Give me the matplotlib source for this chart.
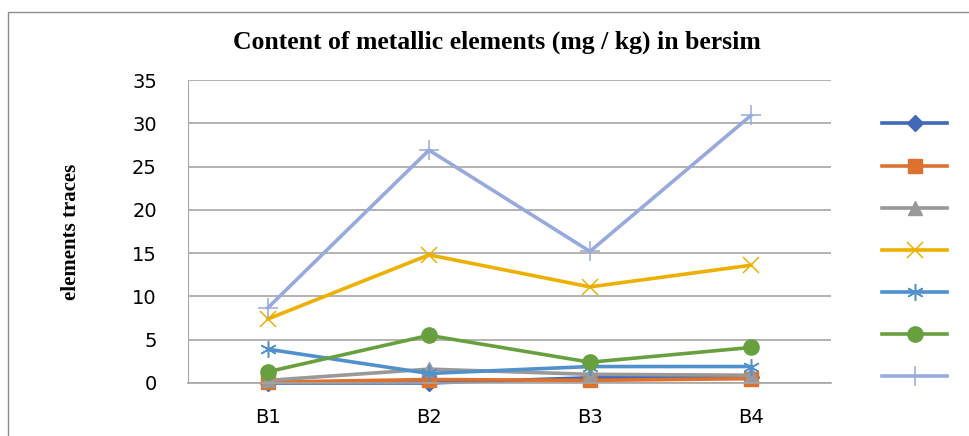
import numpy as np
import matplotlib.pyplot as plt
from matplotlib.patches import Rectangle

# data
samples = ['B1', 'B2', 'B3', 'B4']
s_diamond = [0.0, 0.0, 0.6, 0.7]
s_square = [0.1, 0.4, 0.3, 0.5]
s_triangle = [0.3, 1.6, 1.0, 0.9]
s_cross = [7.4, 14.8, 11.1, 13.6]
s_star = [3.9, 1.1, 1.9, 1.9]
s_circle = [1.3, 5.5, 2.4, 4.1]
s_plus = [8.7, 26.9, 15.2, 30.9]

series = [s_diamond, s_square, s_triangle, s_cross, s_star, s_circle, s_plus]
colors = ['#4169B8', '#DD7230', '#999999', '#EDB000', '#5090CC', '#68A040', '#97AADB']
markers = ['D', 's', '^', 'x', (6, 2, 0), 'o', '+']
msizes = [8, 10, 10, 12, 12, 11, 14]
mews = [1, 1, 1, 1.1, 1.1, 1, 1.1]

fig = plt.figure(figsize=(9.69, 4.36), dpi=100)
ax = fig.add_axes([0.1935, 0.1216, 0.6645, 0.6949])

x = np.arange(len(samples))
handles = []
for vals, c, m, ms, mw in zip(series, colors, markers, msizes, mews):
    ln, = ax.plot(x, vals, color=c, lw=2.6, marker=m, markersize=ms,
                  markeredgewidth=mw, markeredgecolor=c, markerfacecolor=c,
                  clip_on=False)
    handles.append(ln)

ax.set_xlim(-0.5, 3.5)
ax.set_ylim(0, 35)
ax.set_yticks(np.arange(0, 36, 5))
ax.set_xticks(x)
ax.set_xticklabels(samples)
ax.grid(axis='y', color='#A6A6A6', lw=1.2)
ax.set_axisbelow(True)
for sp in ['top', 'right']:
    ax.spines[sp].set_visible(False)
ax.spines['left'].set_color('#A6A6A6')
ax.spines['bottom'].set_color('#A6A6A6')
ax.spines['bottom'].set_linewidth(1.2)
ax.tick_params(length=0, labelsize=14)
ax.tick_params(axis='y', pad=22)
ax.tick_params(axis='x', pad=18)

ax.set_ylabel('elements traces', fontfamily='Liberation Serif', fontweight='bold',
              fontsize=15)
ax.yaxis.set_label_coords(-0.165, 0.5)

fig.text(0.513, 0.904, 'Content of metallic elements (mg / kg) in bersim',
         ha='center', va='center', fontfamily='Liberation Serif',
         fontweight='bold', fontsize=18.5)

fig.legend(handles, [''] * len(handles), loc='upper left',
           bbox_to_anchor=(0.895, 0.770), frameon=False, fontsize=12,
           handlelength=3.9, labelspacing=1.45, handletextpad=0)

# outer chart border
fig.patches.append(Rectangle((8 / 969, -0.1), 1.2, 1.1 - 12 / 436,
                             transform=fig.transFigure, fill=False,
                             edgecolor='#8C8C8C', lw=1))

fig.savefig('out.png', dpi=100)
